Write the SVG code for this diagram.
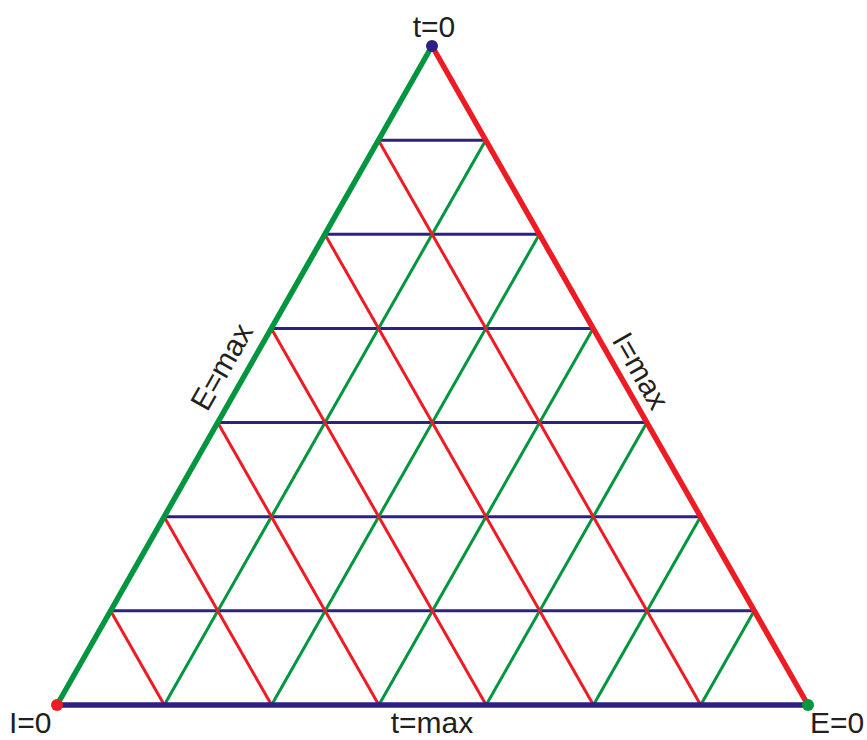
<svg xmlns="http://www.w3.org/2000/svg" width="867" height="740" viewBox="0 0 867 740">
<style>
.t{font-family:"Liberation Sans",Arial,sans-serif;font-size:30px;fill:#231f20}
.g{stroke:#00963f;fill:none}
.r{stroke:#ed1c24;fill:none}
.b{stroke:#2e2185;fill:none}
.thin{stroke-width:3}
.thick{stroke-width:5.5;stroke-linecap:round}
</style>
<rect width="867" height="740" fill="#ffffff"/>
<g id="connectors">
<g class="b thin">
<line x1="378.43" y1="140.14" x2="485.71" y2="140.14"/>
<line x1="324.86" y1="234.29" x2="539.43" y2="234.29"/>
<line x1="271.29" y1="328.43" x2="593.14" y2="328.43"/>
<line x1="217.71" y1="422.57" x2="646.86" y2="422.57"/>
<line x1="164.14" y1="516.71" x2="700.57" y2="516.71"/>
<line x1="110.57" y1="610.86" x2="754.29" y2="610.86"/>
</g>
<g class="g thin">
<line x1="485.71" y1="140.14" x2="164.29" y2="705"/>
<line x1="539.43" y1="234.29" x2="271.57" y2="705"/>
<line x1="593.14" y1="328.43" x2="378.86" y2="705"/>
<line x1="646.86" y1="422.57" x2="486.14" y2="705"/>
<line x1="700.57" y1="516.71" x2="593.43" y2="705"/>
<line x1="754.29" y1="610.86" x2="700.71" y2="705"/>
</g>
<g class="r thin">
<line x1="378.43" y1="140.14" x2="700.71" y2="705"/>
<line x1="324.86" y1="234.29" x2="593.43" y2="705"/>
<line x1="271.29" y1="328.43" x2="486.14" y2="705"/>
<line x1="217.71" y1="422.57" x2="378.86" y2="705"/>
<line x1="164.14" y1="516.71" x2="271.57" y2="705"/>
<line x1="110.57" y1="610.86" x2="164.29" y2="705"/>
</g>
<line id="edge-left" class="g thick" x1="432" y1="46" x2="57" y2="705"/>
<line id="edge-right" class="r thick" x1="432" y1="46" x2="808" y2="705"/>
<line id="edge-bottom" class="b thick" x1="57" y1="705" x2="808" y2="705"/>
<text class="t" text-anchor="middle" transform="translate(242.7,378.7) rotate(-60.36)" y="-14">E=max</text>
<text class="t" text-anchor="middle" transform="translate(623,380.8) rotate(60.29)" y="-10">I=max</text>
<text class="t" text-anchor="middle" x="432" y="733">t=max</text>
</g>
<g id="v-top">
<circle cx="432" cy="46" r="6" fill="#2e2185"/>
<text class="t" text-anchor="middle" x="434" y="37">t=0</text>
</g>
<g id="v-left">
<circle cx="57" cy="705" r="6" fill="#ed1c24"/>
<text class="t" x="9" y="733">I=0</text>
</g>
<g id="v-right">
<circle cx="808" cy="705" r="6" fill="#00963f"/>
<text class="t" x="810" y="733">E=0</text>
</g>
</svg>
